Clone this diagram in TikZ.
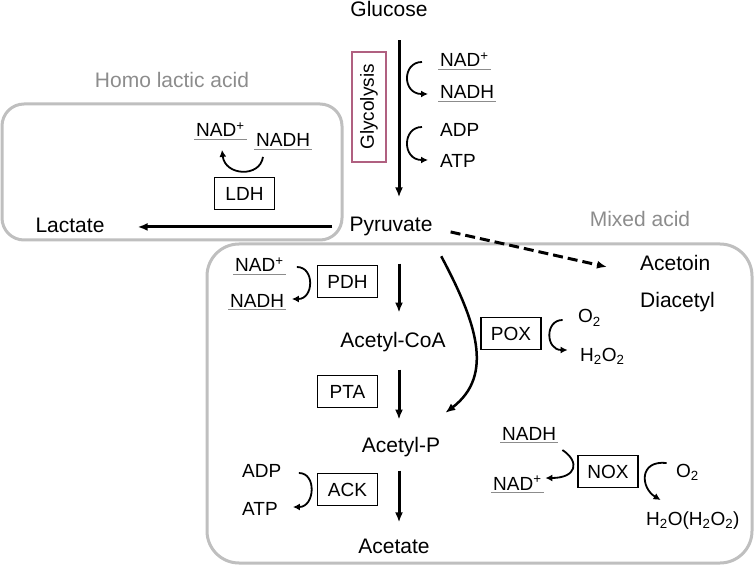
\documentclass[tikz,border=0pt]{standalone}
\usepackage{fontspec}
\setmainfont{Liberation Sans}
\usetikzlibrary{arrows.meta}
\definecolor{regiongray}{RGB}{191,191,191}
\definecolor{labelgray}{RGB}{140,140,140}
\definecolor{glyco}{RGB}{176,96,128}
\tikzset{>={Latex[length=10pt,width=8pt]}}
\tikzset{
  txt/.style = {inner sep=2pt, font=\fontsize{21}{25}\selectfont},
  cof/.style = {inner sep=2pt, font=\fontsize{19}{23}\selectfont, anchor=base west},
  under/.style = {append after command={(\tikzlastnode.south west) edge[draw=labelgray,line width=1pt] (\tikzlastnode.south east)}},
  enzyme/.style = {draw, line width=1.2pt, minimum width=60pt, minimum height=32pt, inner sep=2pt, font=\fontsize{19}{23}\selectfont},
  region/.style = {draw=regiongray, line width=3pt},
  flux/.style = {->, line width=3pt},
  cofarc/.style = {-{Latex[length=7pt,width=7pt]}, line width=1.8pt}
}
\newcommand{\NADp}{NAD\textsuperscript{+}}

\begin{document}
\begin{tikzpicture}[x=1pt,y=-1pt]
  \useasboundingbox (0,0) rectangle (756,567);
  \draw[region,rounded corners=22pt] (2,104) rectangle (342,240);
  \draw[region,rounded corners=32pt] (207,244) rectangle (752,563);
  \node[txt,text=labelgray,anchor=base] (homolabel) at (172,88) {Homo lactic acid};
  \node[txt,text=labelgray,anchor=base] (mixedlabel) at (640,227) {Mixed acid};

  \node[txt,anchor=base] (glucose) at (389,17) {Glucose};
  \node[txt,anchor=base] (pyruvate) at (391,232) {Pyruvate};
  \node[txt,anchor=base] (lactate) at (70,233) {Lactate};
  \node[txt,anchor=base] (acetylcoa) at (393,347) {Acetyl-CoA};
  \node[txt,anchor=base] (acetylp) at (401,452) {Acetyl-P};
  \node[txt,anchor=base] (acetate) at (394,553) {Acetate};
  \node[txt,anchor=base west] (acetoin) at (638,270) {Acetoin};
  \node[txt,anchor=base west] (diacetyl) at (638,307) {Diacetyl};

  \node[enzyme,draw=glyco,rotate=90,minimum width=110pt,minimum height=34pt] (glyco) at (369,107) {Glycolysis};
  \node[enzyme] (ldh) at (244.5,193.5) {LDH};
  \node[enzyme] (pdh) at (347.5,281.5) {PDH};
  \node[enzyme] (pta) at (347.5,391.5) {PTA};
  \node[enzyme] (ack) at (347.5,489.5) {ACK};
  \node[enzyme] (pox) at (511,333.5) {POX};
  \node[enzyme] (nox) at (608,471.5) {NOX};

  \node[cof,under] (nad1) at (438,67) {\NADp};
  \node[cof,under] (nadh1) at (438,99) {NADH};
  \node[cof] (adp1) at (438,137) {ADP};
  \node[cof] (atp1) at (438,168) {ATP};
  \node[cof,under] (nad2) at (194,137) {\NADp};
  \node[cof,under] (nadh2) at (254,147) {NADH};
  \node[cof,under] (nad3) at (233,272) {\NADp};
  \node[cof,under] (nadh3) at (228,307) {NADH};
  \node[cof] (adp2) at (240,477) {ADP};
  \node[cof] (atp2) at (240,515) {ATP};
  \node[cof] (o2a) at (576,323) {O\textsubscript{2}};
  \node[cof] (h2o2) at (578,361) {H\textsubscript{2}O\textsubscript{2}};
  \node[cof,under] (nadh4) at (500,440) {NADH};
  \node[cof,under] (nad4) at (491,490) {\NADp};
  \node[cof] (o2b) at (674,477) {O\textsubscript{2}};
  \node[cof] (h2o) at (644,525) {H\textsubscript{2}O(H\textsubscript{2}O\textsubscript{2})};

  \coordinate (col) at (399,0);
  \draw[flux,shorten <=21pt,shorten >=18pt] (glucose.south -| col) -- (pyruvate.north -| col);
  \draw[flux,shorten <=25pt,shorten >=17pt] (pyruvate.south -| col) -- (acetylcoa.north -| col);
  \draw[flux,shorten <=16pt,shorten >=15pt] (acetylcoa.south -| col) -- (acetylp.north -| col);
  \draw[flux,shorten <=12pt,shorten >=14pt] (acetylp.south -| col) -- (acetate.north -| col);
  \draw[flux,shorten <=15pt,shorten >=31pt] (pyruvate.west) -- (pyruvate.west -| lactate.east);
  \draw[flux,dash pattern=on 10pt off 5pt] ([shift={(16,5)}]pyruvate.east) -- ([shift={(-31,4.5)}]acetoin.west);
  \draw[flux,line width=2.5pt] ([shift={(6.6,29.3)}]pyruvate.east) .. controls +(34,64) and +(50,-38) .. ([shift={(3,-33.7)}]acetylp.east);

  \draw[cofarc] ([shift={(-16,-5)}]nad1.base west) .. controls +(-20,0) and +(-26,0) .. ([shift={(-10,-5)}]nadh1.base west);
  \draw[cofarc] ([shift={(-16,-10)}]adp1.base west) .. controls +(-20,0) and +(-26,0) .. ([shift={(-10,-8)}]atp1.base west);
  \draw[cofarc] ([shift={(18.5,-20)}]ldh.north) .. controls +(-3,21) and +(3,26) .. ([shift={(-22.5,-27)}]ldh.north);
  \draw[cofarc] ([shift={(-20,-14.5)}]pdh.west) .. controls +(18,0) and +(22,0) .. ([shift={(-25,17.5)}]pdh.west);
  \draw[cofarc] ([shift={(-18,-16.5)}]ack.west) .. controls +(18,0) and +(22,0) .. ([shift={(-24,17.5)}]ack.west);
  \draw[cofarc] ([shift={(21,-13.5)}]pox.east) .. controls +(-18,0) and +(-22,0) .. ([shift={(26,16.5)}]pox.east);
  \draw[cofarc] ([shift={(-15,-21.5)}]nox.west) .. controls +(18,12) and +(31,0) .. ([shift={(-32,6.5)}]nox.west);
  \draw[cofarc] ([shift={(28,-8.5)}]nox.east) .. controls +(-28,-3) and +(-20,-12) .. ([shift={(22,28.5)}]nox.east);
\end{tikzpicture}
\end{document}
